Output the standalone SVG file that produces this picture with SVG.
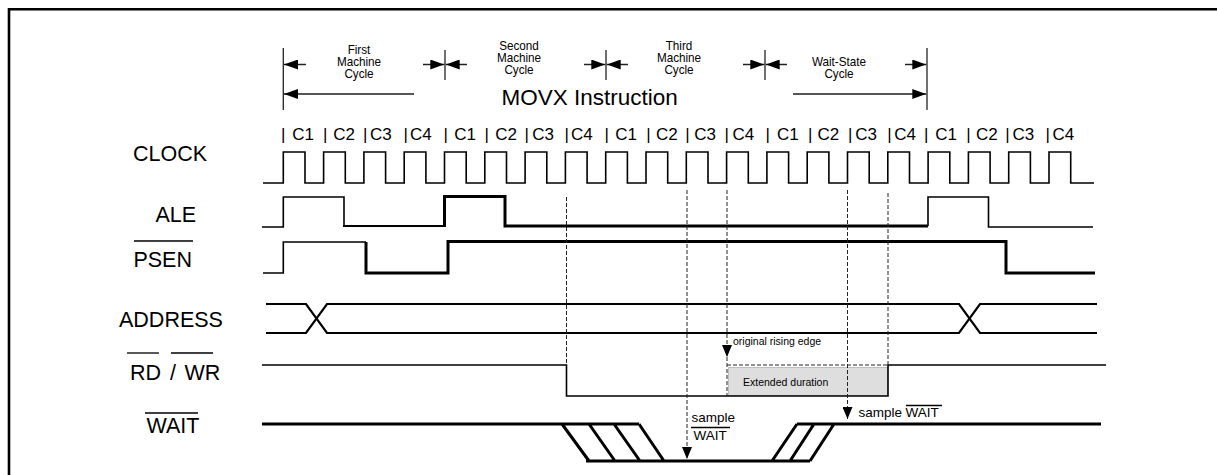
<svg xmlns="http://www.w3.org/2000/svg" width="1217" height="475" viewBox="0 0 1217 475">
<style>
 text{font-family:"Liberation Sans",Arial,Helvetica,sans-serif;fill:#000}
 .lbl{font-size:21.5px}
 .clk{font-size:17px}
 .cyc{font-size:13px;text-anchor:middle}
 .movx{font-size:22.5px}
 .note{font-size:10.5px}
 .smp{font-size:13.5px}
 .w{fill:none;stroke:#000;stroke-linejoin:miter;stroke-linecap:butt}
 .thin{stroke-width:1.6}
 .med{stroke-width:2.2}
 .thick{stroke-width:3}
 .bar{stroke:#000;stroke-width:1.3}
 .dash{fill:none;stroke:#222;stroke-width:1;stroke-dasharray:4 2}
 .dim{fill:none;stroke:#222;stroke-width:1.5}
 .dimg{fill:none;stroke:#555;stroke-width:2}
 .tick{stroke:#222;stroke-width:1.3}
</style>
<defs>
 <marker id="ah" viewBox="0 0 14 10" refX="14" refY="5" markerWidth="14" markerHeight="10" markerUnits="userSpaceOnUse" orient="auto"><path d="M0,0 L14,5 L0,10 z" fill="#000"/></marker>
 <marker id="ad" viewBox="0 0 12 10" refX="12" refY="5" markerWidth="12" markerHeight="10" markerUnits="userSpaceOnUse" orient="auto"><path d="M0,0 L12,5 L0,10 z" fill="#000"/></marker>
</defs>
<rect width="1217" height="475" fill="#fff"/>
<path d="M9,475 V9.3 H1217" fill="none" stroke="#000" stroke-width="2.6"/>

<g id="cycles">
 <line class="tick" x1="283.3" y1="48" x2="283.3" y2="110"/>
 <line class="tick" x1="445" y1="50" x2="445" y2="80"/>
 <line class="tick" x1="606" y1="50" x2="606" y2="80"/>
 <line class="tick" x1="765" y1="50" x2="765" y2="80"/>
 <line class="tick" x1="927" y1="48" x2="927" y2="110"/>
 <path class="dim" d="M306,64.5 H284" marker-end="url(#ah)"/>
 <path class="dim" d="M423,64.5 H444.3" marker-end="url(#ah)"/>
 <path class="dim" d="M467,64.5 H445.7" marker-end="url(#ah)"/>
 <path class="dim" d="M584,64.5 H605.3" marker-end="url(#ah)"/>
 <path class="dim" d="M628,64.5 H606.7" marker-end="url(#ah)"/>
 <path class="dim" d="M743,64.5 H764.3" marker-end="url(#ah)"/>
 <path class="dim" d="M787,64.5 H765.7" marker-end="url(#ah)"/>
 <path class="dim" d="M905,64.5 H926.3" marker-end="url(#ah)"/>
 <text class="cyc" transform="translate(359,0) scale(0.9,1)"><tspan x="0" y="54">First</tspan><tspan x="0" y="66">Machine</tspan><tspan x="0" y="78">Cycle</tspan></text>
 <text class="cyc" transform="translate(519,0) scale(0.9,1)"><tspan x="0" y="50">Second</tspan><tspan x="0" y="62">Machine</tspan><tspan x="0" y="74">Cycle</tspan></text>
 <text class="cyc" transform="translate(679,0) scale(0.9,1)"><tspan x="0" y="50">Third</tspan><tspan x="0" y="62">Machine</tspan><tspan x="0" y="74">Cycle</tspan></text>
 <text class="cyc" transform="translate(839,0) scale(0.9,1)"><tspan x="0" y="66">Wait-State</tspan><tspan x="0" y="78">Cycle</tspan></text>
 <path class="dimg" d="M414,94 H284" marker-end="url(#ah)"/>
 <path class="dimg" d="M793,94 H926.3" marker-end="url(#ah)"/>
 <text class="movx" x="501.5" y="105">MOVX Instruction</text>
</g>

<g id="clock">
 <text class="lbl" x="133" y="161">CLOCK</text>
 <g class="clk">
  <text x="280.9" y="140">| <tspan x="292.2">C1</tspan></text>
  <text x="322.9" y="140">| <tspan x="333.2">C2</tspan></text>
  <text x="362.9" y="140">|<tspan x="369.9">C3</tspan></text>
  <text x="403.6" y="140">|<tspan x="409.9">C4</tspan></text>
  <text x="443.6" y="140">| <tspan x="454.2">C1</tspan></text>
  <text x="484.6" y="140">| <tspan x="495.2">C2</tspan></text>
  <text x="524.6" y="140">|<tspan x="532.2">C3</tspan></text>
  <text x="564.6" y="140">|<tspan x="570.9">C4</tspan></text>
  <text x="604.6" y="140">| <tspan x="615.2">C1</tspan></text>
  <text x="646.2" y="140">| <tspan x="655.9">C2</tspan></text>
  <text x="685.2" y="140">|<tspan x="694.2">C3</tspan></text>
  <text x="724.6" y="140">|<tspan x="732.5">C4</tspan></text>
  <text x="765.6" y="140">| <tspan x="776.9">C1</tspan></text>
  <text x="807.9" y="140">| <tspan x="817.5">C2</tspan></text>
  <text x="847.9" y="140">|<tspan x="855.2">C3</tspan></text>
  <text x="887.2" y="140">|<tspan x="894.2">C4</tspan></text>
  <text x="923.9" y="140">| <tspan x="935.2">C1</tspan></text>
  <text x="966.2" y="140">| <tspan x="975.9">C2</tspan></text>
  <text x="1005.2" y="140">|<tspan x="1012.5">C3</tspan></text>
  <text x="1045.6" y="140">|<tspan x="1052.5">C4</tspan></text>
 </g>
 <path class="w thin" d="M263,183 H283.3 V152 H305 V183 H323.6 V152 H345.3 V183 H363.9 V152 H385.6 V183 H404.2 V152 H425.9 V183 H444.5 V152 H466.2 V183 H484.8 V152 H506.5 V183 H525.1 V152 H546.8 V183 H565.4 V152 H587.1 V183 H605.7 V152 H627.4 V183 H646 V152 H667.7 V183 H686.3 V152 H708 V183 H726.6 V152 H748.3 V183 H766.9 V152 H788.6 V183 H807.2 V152 H828.9 V183 H847.5 V152 H869.2 V183 H887.8 V152 H909.5 V183 H928.1 V152 H949.8 V183 H968.4 V152 H990.1 V183 H1008.7 V152 H1030.4 V183 H1049 V152 H1070.7 V183 H1094"/>
</g>

<g id="ale">
 <text class="lbl" x="155.5" y="222">ALE</text>
 <path class="w thin" d="M262,227 H283.3 V197 H344 V226"/>
 <path class="w med" d="M343,226 H444.5"/>
 <path class="w thick" d="M444.5,227 V196.5 H505 V226 H928"/>
 <path class="w thin" d="M928,226 V197 H988.5 V227 H1093"/>
</g>

<g id="psen">
 <text class="lbl" x="133.4" y="267">PSEN</text>
 <line class="bar" x1="134" y1="241" x2="193" y2="241"/>
 <path class="w thin" d="M263,273 H283.3 V242 H366"/>
 <path class="w thick" d="M366,242 V273 H448 V241.5 H1006 V273 H1095"/>
</g>

<g id="address">
 <text class="lbl" x="119" y="327">ADDRESS</text>
 <path class="w med" d="M266,304 H306 L327,333 H959 L980,304 H1097"/>
 <path class="w med" d="M266,333 H306 L327,304 H959 L980,333 H1097"/>
</g>

<g id="extended">
 <rect x="728.5" y="367.5" width="159" height="28" fill="#dedede" stroke="#bdbdbd" stroke-width="1"/>
 <text class="note" x="743" y="386">Extended duration</text>
 <path class="dash" d="M727,365 H888 M727,357 V396"/>
</g>

<g id="rdwr">
 <text class="lbl" x="130" y="380">RD <tspan x="170">/ </tspan><tspan x="184.5">WR</tspan></text>
 <line class="bar" x1="127" y1="353" x2="159" y2="353"/>
 <line class="bar" x1="171" y1="353" x2="213" y2="353"/>
 <path class="w thin" d="M262,365 H566.5 V396 H888 V365 H1106"/>
</g>

<g id="wait">
 <text class="lbl" x="146.5" y="433">WAIT</text>
 <line class="bar" x1="145" y1="413" x2="198" y2="413"/>
 <path class="w thick" d="M262,424 H639 M562,424 L589,461 M589,424 L615,461 M614,424 L640,461 M639,424 L664,461 M586,461 H810 M772,461 L797,424 M790,461 L814,424 M810,461 L834,424 M797,424 H1101"/>
</g>

<g id="connectors">
 <path class="dash" d="M566.5,197 V365"/>
 <path class="dash" d="M687,190 V459" marker-end="url(#ad)"/>
 <path class="dash" d="M727,190 V357" marker-end="url(#ad)"/>
 <path class="dash" d="M847.5,190 V419" marker-end="url(#ad)"/>
 <path class="dash" d="M888,193 V365"/>
</g>

<g id="annotations">
 <text class="note" x="733" y="345">original rising edge</text>
 <text class="smp" x="691.5" y="422">sample</text>
 <line class="bar" x1="691" y1="427.5" x2="730" y2="427.5" stroke-width="1"/>
 <text class="smp" x="693.5" y="440">WAIT</text>
 <text class="smp" x="858.5" y="417">sample <tspan x="905.5">WAIT</tspan></text>
 <line class="bar" x1="906" y1="405.5" x2="942" y2="405.5" stroke-width="1"/>
</g>
</svg>
